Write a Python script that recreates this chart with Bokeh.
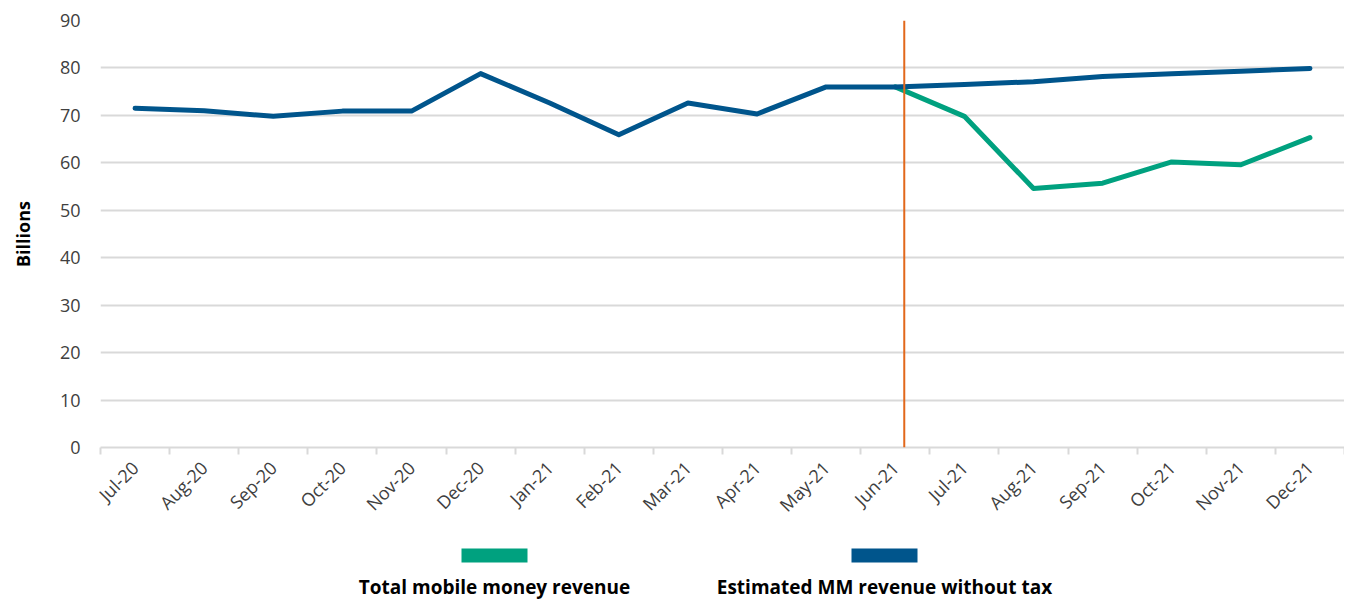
import numpy as np
from bokeh.plotting import figure
from bokeh.models import Range1d, FixedTicker, Span, ColumnDataSource
from bokeh.layouts import column
from bokeh.core.properties import value
from bokeh.embed import file_html
from bokeh.resources import INLINE

months = ["Jul-20", "Aug-20", "Sep-20", "Oct-20", "Nov-20", "Dec-20", "Jan-21", "Feb-21",
          "Mar-21", "Apr-21", "May-21", "Jun-21", "Jul-21", "Aug-21", "Sep-21", "Oct-21",
          "Nov-21", "Dec-21"]
estimated_no_tax = [71.5, 71.0, 69.8, 70.9, 70.9, 78.8, 72.6, 65.9, 72.6, 70.3, 76.0, 76.0,
                    76.5, 77.1, 78.2, 78.8, 79.3, 79.9]
total_mm_months = ["Jun-21", "Jul-21", "Aug-21", "Sep-21", "Oct-21", "Nov-21", "Dec-21"]
total_mm_revenue = [76.0, 69.8, 54.6, 55.7, 60.2, 59.6, 65.3]
y_ticks = [0, 10, 20, 30, 40, 50, 60, 70, 80, 90]
tax_intro_position = 11.63  # position of the vertical marker (in month units)

BLUE = "#00558C"
GREEN = "#00A17F"
ORANGE = "#E2681B"
GRID = "#D9D9D9"
TXT = "#404040"

idx = {m: i + 0.5 for i, m in enumerate(months)}
src_blue = ColumnDataSource(dict(x=[idx[m] for m in months], y=estimated_no_tax))
src_green = ColumnDataSource(dict(x=[idx[m] for m in total_mm_months], y=total_mm_revenue))

W = 1344
p = figure(width=W, height=538, output_backend="svg", toolbar_location=None,
           x_range=Range1d(0, len(months)), y_range=Range1d(0, 90))
p.min_border_left = 100
p.min_border_right = 0
p.min_border_top = 20
p.min_border_bottom = 91
p.outline_line_color = None

p.line("x", "y", source=src_green, line_color=GREEN, line_width=5, line_join="round", line_cap="round")
p.line("x", "y", source=src_blue, line_color=BLUE, line_width=5, line_join="round", line_cap="round")
p.add_layout(Span(location=tax_intro_position, dimension="height", line_color=ORANGE, line_width=2))

# y axis
p.yaxis.ticker = FixedTicker(ticks=y_ticks)
p.yaxis.axis_line_color = None
p.yaxis.major_tick_line_color = None
p.yaxis.minor_tick_line_color = None
p.yaxis.major_tick_out = 0
p.yaxis.major_tick_in = 0
p.yaxis.major_label_standoff = 20
p.yaxis.major_label_text_font = "Open Sans"
p.yaxis.major_label_text_font_size = "18px"
p.yaxis.major_label_text_color = TXT
p.yaxis.axis_label = "Billions"
p.yaxis.axis_label_text_font = "Open Sans"
p.yaxis.axis_label_text_font_style = "bold"
p.yaxis.axis_label_text_font_size = "18px"
p.yaxis.axis_label_text_color = "#000000"
p.yaxis.axis_label_standoff = 22
p.ygrid.ticker = FixedTicker(ticks=y_ticks)
p.ygrid.grid_line_color = GRID
p.ygrid.grid_line_width = 2
p.xgrid.grid_line_color = None

# x axis: labels at month centres, tick marks at month boundaries
p.xaxis.ticker = FixedTicker(ticks=[i + 0.5 for i in range(len(months))],
                             minor_ticks=list(range(len(months) + 1)))
p.xaxis.major_label_overrides = {i + 0.5: m for i, m in enumerate(months)}
p.xaxis.major_tick_line_color = None
p.xaxis.major_tick_out = 0
p.xaxis.major_tick_in = 0
p.xaxis.minor_tick_line_color = GRID
p.xaxis.minor_tick_line_width = 2
p.xaxis.minor_tick_out = 7
p.xaxis.minor_tick_in = 0
p.xaxis.axis_line_color = GRID
p.xaxis.axis_line_width = 2
p.xaxis.major_label_orientation = np.pi / 4
p.xaxis.major_label_standoff = 10
p.xaxis.major_label_text_font = "Open Sans"
p.xaxis.major_label_text_font_size = "18px"
p.xaxis.major_label_text_color = TXT

# legend figure below (x in page pixels, frame aligned with main frame)
legend_labels = ["Total mobile money revenue", "Estimated MM revenue without tax"]
legend_colors = [GREEN, BLUE]
legend_x = [494, 884]
LH = 62
leg = figure(width=W, height=LH, output_backend="svg", toolbar_location=None,
             x_range=Range1d(100, W), y_range=Range1d(0, LH))
leg.axis.visible = False
leg.grid.visible = False
leg.outline_line_color = None
leg.min_border = 0
leg.min_border_left = 100
leg.min_border_right = 0
leg.rect(x=legend_x, y=[45, 45], width=66, height=14, fill_color=legend_colors, line_color=None)
leg.text(x=legend_x, y=[14, 14], text=legend_labels, text_align="center", text_baseline="middle",
         text_font=value("Open Sans"), text_font_style="bold", text_font_size="19px",
         text_color="#000000")

layout = column(p, leg, spacing=0)
open("out.html", "w").write(file_html(layout, INLINE))
